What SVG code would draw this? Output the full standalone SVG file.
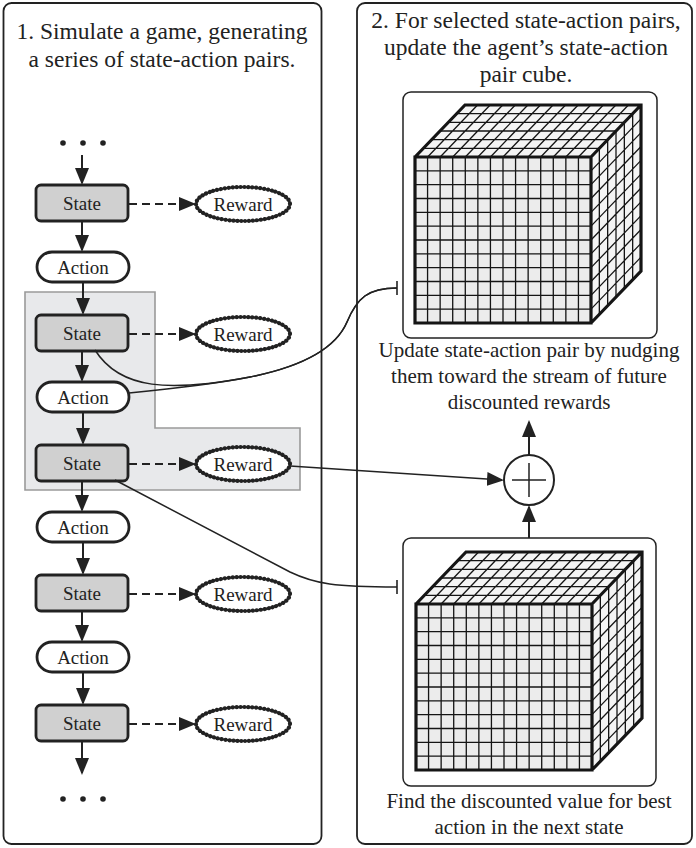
<svg xmlns="http://www.w3.org/2000/svg" xmlns:xlink="http://www.w3.org/1999/xlink" width="696" height="848" viewBox="0 0 696 848">
<style>
.panel{fill:#fff;stroke:#222;stroke-width:1.8}
.box{fill:#fff;stroke:#222;stroke-width:1.5}
.st{fill:#d0d0d0;stroke:#222;stroke-width:2.8}
.ac{fill:#fff;stroke:#222;stroke-width:2.8}
.rwb{fill:#fff;stroke:#222;stroke-width:2}
.rwd{fill:none;stroke:#222;stroke-width:4.2;stroke-dasharray:0.01 3.9;stroke-linecap:round}
.lbl{font-family:"Liberation Serif","Times New Roman",serif;font-size:19px;text-anchor:middle;fill:#222}
.hd{font-family:"Liberation Serif","Times New Roman",serif;font-size:23.5px;text-anchor:middle;fill:#222}
.cap{font-family:"Liberation Serif","Times New Roman",serif;font-size:21px;text-anchor:middle;fill:#222}
.flow{fill:none;stroke:#222;stroke-width:2}
.dash{fill:none;stroke:#222;stroke-width:2;stroke-dasharray:8 5}
.link{fill:none;stroke:#222;stroke-width:1.5}
.grid{fill:none;stroke:#151515;stroke-width:1.3;vector-effect:non-scaling-stroke}
.edge{fill:none;stroke:#151515;stroke-width:3.2;stroke-linejoin:miter}
.hl{fill:#e8e9eb;stroke:#9a9a9a;stroke-width:1.6}
</style>
<defs>
<marker id="ah" markerUnits="userSpaceOnUse" viewBox="0 0 17 14" markerWidth="17" markerHeight="14" refX="15" refY="7" orient="auto">
<path d="M0,0L17,7L0,14Z" fill="#222"/>
</marker>
<marker id="tee" markerUnits="userSpaceOnUse" viewBox="-2 -8 4 16" markerWidth="4" markerHeight="16" refX="0" refY="0" orient="auto">
<path d="M0,-7V7" stroke="#222" stroke-width="1.6" fill="none"/>
</marker>
<g id="cube">
<g transform="translate(415,157)">
<rect width="176" height="166" fill="#ececec"/>
<path class="grid" d="M12.57,0V166M25.14,0V166M37.71,0V166M50.29,0V166M62.86,0V166M75.43,0V166M88,0V166M100.57,0V166M113.14,0V166M125.71,0V166M138.29,0V166M150.86,0V166M163.43,0V166M0,13.83H176M0,27.67H176M0,41.5H176M0,55.33H176M0,69.17H176M0,83H176M0,96.83H176M0,110.67H176M0,124.5H176M0,138.33H176M0,152.17H176"/>
</g>
<g transform="matrix(1,0,1,-1.04,415,157)">
<rect width="176" height="50" fill="#f4f4f4"/>
<path class="grid" d="M12.57,0V50M25.14,0V50M37.71,0V50M50.29,0V50M62.86,0V50M75.43,0V50M88,0V50M100.57,0V50M113.14,0V50M125.71,0V50M138.29,0V50M150.86,0V50M163.43,0V50M0,8.33H176M0,16.67H176M0,25H176M0,33.33H176M0,41.67H176"/>
</g>
<g transform="matrix(1,-1.04,0,1,591,157)">
<rect width="50" height="166" fill="#f4f4f4"/>
<path class="grid" d="M8.33,0V166M16.67,0V166M25,0V166M33.33,0V166M41.67,0V166M0,13.83H50M0,27.67H50M0,41.5H50M0,55.33H50M0,69.17H50M0,83H50M0,96.83H50M0,110.67H50M0,124.5H50M0,138.33H50M0,152.17H50"/>
</g>
<path class="edge" d="M415,157H591V323H415ZM415,157L465,105H641V271L591,323M591,157L641,105"/>
</g>
</defs>

<g id="panel-left">
<rect class="panel" x="3.5" y="3" width="318" height="841" rx="8"/>
<text class="hd" x="162" y="39">1. Simulate a game, generating</text>
<text class="hd" x="162" y="67">a series of state-action pairs.</text>
</g>
<g id="panel-right">
<rect class="panel" x="357" y="3" width="335" height="841" rx="8"/>
<text class="hd" x="526" y="28">2. For selected state-action pairs,</text>
<text class="hd" x="526" y="55">update the agent’s state-action</text>
<text class="hd" x="526" y="82">pair cube.</text>
</g>

<g id="highlight">
<path class="hl" d="M25,292H155V428H300V490H25Z"/>
</g>

<g id="dots-top">
<circle cx="63" cy="143" r="2.8" fill="#222"/><circle cx="83" cy="143" r="2.8" fill="#222"/><circle cx="103" cy="143" r="2.8" fill="#222"/>
</g>
<g id="dots-bottom">
<circle cx="63" cy="799" r="2.8" fill="#222"/><circle cx="83" cy="799" r="2.8" fill="#222"/><circle cx="103" cy="799" r="2.8" fill="#222"/>
</g>

<g id="state1"><rect class="st" x="36" y="185" width="92" height="36" rx="5"/><text class="lbl" x="82" y="209.5">State</text></g>
<g id="state2"><rect class="st" x="36" y="315" width="92" height="36" rx="5"/><text class="lbl" x="82" y="339.5">State</text></g>
<g id="state3"><rect class="st" x="36" y="445" width="92" height="36" rx="5"/><text class="lbl" x="82" y="469.5">State</text></g>
<g id="state4"><rect class="st" x="36" y="575" width="92" height="36" rx="5"/><text class="lbl" x="82" y="599.5">State</text></g>
<g id="state5"><rect class="st" x="36" y="705" width="92" height="36" rx="5"/><text class="lbl" x="82" y="729.5">State</text></g>

<g id="action1"><rect class="ac" x="37" y="252" width="92" height="30" rx="15"/><text class="lbl" x="83" y="273.5">Action</text></g>
<g id="action2"><rect class="ac" x="37" y="382" width="92" height="30" rx="15"/><text class="lbl" x="83" y="403.5">Action</text></g>
<g id="action3"><rect class="ac" x="37" y="512" width="92" height="30" rx="15"/><text class="lbl" x="83" y="533.5">Action</text></g>
<g id="action4"><rect class="ac" x="37" y="642" width="92" height="30" rx="15"/><text class="lbl" x="83" y="663.5">Action</text></g>

<g id="reward1"><ellipse class="rwb" cx="243" cy="204" rx="47" ry="17"/><ellipse class="rwd" cx="243" cy="204" rx="47" ry="17"/><text class="lbl" x="243" y="210.5">Reward</text></g>
<g id="reward2"><ellipse class="rwb" cx="243" cy="334" rx="47" ry="17"/><ellipse class="rwd" cx="243" cy="334" rx="47" ry="17"/><text class="lbl" x="243" y="340.5">Reward</text></g>
<g id="reward3"><ellipse class="rwb" cx="243" cy="464" rx="47" ry="17"/><ellipse class="rwd" cx="243" cy="464" rx="47" ry="17"/><text class="lbl" x="243" y="470.5">Reward</text></g>
<g id="reward4"><ellipse class="rwb" cx="243" cy="594" rx="47" ry="17"/><ellipse class="rwd" cx="243" cy="594" rx="47" ry="17"/><text class="lbl" x="243" y="600.5">Reward</text></g>
<g id="reward5"><ellipse class="rwb" cx="243" cy="724" rx="47" ry="17"/><ellipse class="rwd" cx="243" cy="724" rx="47" ry="17"/><text class="lbl" x="243" y="730.5">Reward</text></g>

<g id="cube-top">
<rect class="box" x="403" y="92" width="254" height="246" rx="8"/>
<use xlink:href="#cube"/>
<text class="cap" x="529" y="357">Update state-action pair by nudging</text>
<text class="cap" x="529" y="383">them toward the stream of future</text>
<text class="cap" x="529" y="409">discounted rewards</text>
</g>
<g id="cube-bottom">
<rect class="box" x="403" y="538" width="253" height="248" rx="8"/>
<use xlink:href="#cube" transform="translate(1,447)"/>
<text class="cap" x="529" y="808">Find the discounted value for best</text>
<text class="cap" x="529" y="834">action in the next state</text>
</g>
<g id="plus">
<circle cx="529" cy="480" r="25" fill="#fff" stroke="#222" stroke-width="2"/>
<path d="M512,480H546M529,463V497" stroke="#222" stroke-width="1.5"/>
</g>

<g id="connectors">
<path class="flow" d="M82,155V183" marker-end="url(#ah)"/>
<path class="flow" d="M82,221V250" marker-end="url(#ah)"/>
<path class="flow" d="M83,282V313" marker-end="url(#ah)"/>
<path class="flow" d="M82,351V380" marker-end="url(#ah)"/>
<path class="flow" d="M83,412V443" marker-end="url(#ah)"/>
<path class="flow" d="M82,481V510" marker-end="url(#ah)"/>
<path class="flow" d="M83,542V573" marker-end="url(#ah)"/>
<path class="flow" d="M82,611V640" marker-end="url(#ah)"/>
<path class="flow" d="M83,672V703" marker-end="url(#ah)"/>
<path class="flow" d="M82,741V773" marker-end="url(#ah)"/>
<path class="dash" d="M129,204H194" marker-end="url(#ah)"/>
<path class="dash" d="M129,334H194" marker-end="url(#ah)"/>
<path class="dash" d="M129,464H194" marker-end="url(#ah)"/>
<path class="dash" d="M129,594H194" marker-end="url(#ah)"/>
<path class="dash" d="M129,724H194" marker-end="url(#ah)"/>
<path class="link" d="M95,350C120,390 170,392 250,377C300,367 335,350 347,322C357,298 368,288 397,288" marker-end="url(#tee)"/>
<path class="link" d="M129,393C180,388 220,383 250,377C300,367 335,350 347,322C357,298 368,288 397,288"/>
<path class="link" d="M290,466L502,480" marker-end="url(#ah)"/>
<path class="link" d="M115,480L290,572C315,584 335,587 397,587" marker-end="url(#tee)"/>
<path class="flow" d="M529,538V507" marker-end="url(#ah)"/>
<path class="flow" d="M529,455V422" marker-end="url(#ah)"/>
</g>
</svg>
